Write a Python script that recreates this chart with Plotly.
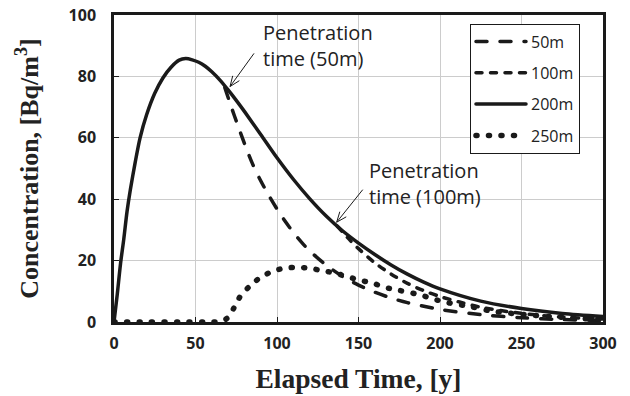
import math
import plotly.graph_objects as go

# ---- data ----
x_200 = [0, 2, 4, 6, 8, 10, 13, 16, 20, 25, 30, 35, 40, 44, 48, 52, 56, 60, 65, 70, 75, 80, 90,
         100, 110, 120, 130, 140, 150, 160, 170, 180, 190, 200, 225, 250, 275, 300]
y_200 = [0, 9, 19, 27, 36, 43, 52, 60, 67.5, 74.5, 79.5, 83, 85.3, 85.8, 85.4, 84.6, 83.3, 81.5,
         78.8, 75.6, 72.2, 68.6, 61.1, 53.5, 46.5, 40.2, 34.6, 29.8, 25.7, 22.0, 18.6, 15.6,
         13.0, 10.8, 6.8, 4.4, 2.8, 1.8]

x_50 = [68, 72, 76, 80, 85, 90, 95, 100, 105, 110, 115, 120, 130, 140, 150, 160, 170, 180,
        200, 225, 250, 275, 300]
y_50 = [76.3, 70, 64, 58.2, 51.5, 46, 41.2, 36.8, 32.8, 29.2, 26, 23.2, 18.6, 14.9, 12.0, 9.7,
        7.8, 6.3, 4.1, 2.4, 1.4, 0.8, 0.5]

x_100 = [137, 145, 150, 160, 170, 180, 190, 200, 212, 225, 250, 275, 300]
y_100 = [31.2, 26.5, 23.9, 19.3, 15.6, 12.6, 10.2, 8.3, 6.5, 4.8, 2.8, 1.6, 1.0]

x_250 = [0, 20, 40, 60, 66, 70, 74, 78, 84, 90, 97, 104, 112, 120, 128, 136, 150, 159, 166,
         175, 188, 202, 219, 231, 250, 275, 300]
y_250 = [0, 0, 0, 0, 0.2, 1.5, 5, 8.8, 12, 14.6, 16.4, 17.5, 17.8, 17.5, 16.7, 15.9, 13.7,
         12.6, 11.3, 10.3, 8.8, 6.6, 5, 3.6, 2.5, 1.5, 0.8]

x_ticks = [0, 50, 100, 150, 200, 250, 300]
y_ticks = [0, 20, 40, 60, 80, 100]

# annotation anchor points (data coords): tip on curve, tail at text
arrow_50 = dict(tip=(71.2, 76.7), tail=(85.9, 87.5))
arrow_100 = dict(tip=(136.6, 32.5), tail=(152.6, 43.1))

W, H = 630, 396
ML, MR, MT, MB = 114, 27, 15, 74
PW, PH = W - ML - MR, H - MT - MB
XR, YR = (0, 300), (0, 100)

TICK_FONT = dict(family="Open Sans", size=16, color="#222222", weight="bold")
XTITLE_FONT = dict(family="Liberation Serif", size=27.5, color="#222222")
YTITLE_FONT = dict(family="Liberation Serif", size=26, color="#222222")
TEXT_FONT = dict(family="Open Sans", size=20, color="#222222")
INK = "#1a1a1a"

fig = go.Figure()
common = dict(mode="lines", line_shape="spline", line_smoothing=0.8)
fig.add_trace(go.Scatter(x=x_50, y=y_50, name="50m", legendgroup="a",
                         line=dict(color=INK, width=3.5, dash="11px,13px"), **common))
fig.add_trace(go.Scatter(x=x_100, y=y_100, name="100m", legendgroup="b",
                         line=dict(color=INK, width=3.5, dash="6px,8.5px"), **common))
fig.add_trace(go.Scatter(x=x_200, y=y_200, name="200m", legendgroup="c",
                         line=dict(color=INK, width=3.5), **common))
fig.add_trace(go.Scatter(x=x_250, y=y_250, name="250m", legendgroup="d",
                         line=dict(color=INK, width=5.5, dash="1px,11.5px"), **common))

axis_common = dict(showgrid=True, gridcolor="#cccccc", gridwidth=1, showline=True,
                   linecolor=INK, linewidth=2.5, mirror=True, ticks="inside",
                   ticklen=5, tickcolor=INK, tickfont=TICK_FONT, zeroline=False,
                   automargin=False)

fig.update_layout(
    width=W, height=H,
    margin=dict(l=ML, r=MR, t=MT, b=MB),
    paper_bgcolor="white", plot_bgcolor="white",
    xaxis=dict(range=list(XR), tickvals=x_ticks, ticktext=[str(v) for v in x_ticks],
               ticklabelstandoff=5,
               title=dict(text="<b>Elapsed Time, [y]</b>", font=XTITLE_FONT, standoff=16),
               **axis_common),
    yaxis=dict(range=list(YR), tickvals=y_ticks, ticktext=[str(v) for v in y_ticks],
               ticklabelstandoff=12,
               title=dict(text="<b>Concentration, [Bq/m<sup>3</sup>]</b>", font=YTITLE_FONT,
                          standoff=23),
               **axis_common),
    legend=dict(x=0.728, y=0.972, xanchor="left", yanchor="top", bgcolor="white",
                bordercolor=INK, borderwidth=1,
                font=dict(family="Open Sans", size=16, color="#222222"),
                traceorder="grouped", tracegroupgap=7.5, itemwidth=50),
    showlegend=True,
)

# open-V arrows drawn as line shapes (pixel-space geometry converted to data coords)
sx = PW / (XR[1] - XR[0])
sy = PH / (YR[1] - YR[0])


def add_arrow(tip, tail, head=11, ang=22):
    tx, ty = tip
    dx = (tail[0] - tx) * sx
    dy = (tail[1] - ty) * sy
    L = math.hypot(dx, dy)
    ux, uy = dx / L, dy / L
    line = dict(color=INK, width=1)
    fig.add_shape(type="line", x0=tail[0], y0=tail[1], x1=tx, y1=ty, line=line,
                  xref="x", yref="y")
    for s in (1, -1):
        a = math.radians(ang) * s
        hx = ux * math.cos(a) - uy * math.sin(a)
        hy = ux * math.sin(a) + uy * math.cos(a)
        fig.add_shape(type="line", x0=tx, y0=ty, x1=tx + hx * head / sx, y1=ty + hy * head / sy,
                      line=line, xref="x", yref="y")


add_arrow(**arrow_50)
add_arrow(**arrow_100)

fig.add_annotation(x=90.3, y=90.1, xref="x", yref="y", xanchor="left", yanchor="middle",
                   text="Penetration<br>time (50m)", showarrow=False, align="left", font=TEXT_FONT)
fig.add_annotation(x=155.3, y=45.0, xref="x", yref="y", xanchor="left", yanchor="middle",
                   text="Penetration<br>time (100m)", showarrow=False, align="left", font=TEXT_FONT)

post = ("var s=document.createElement('style');"
        "s.textContent='.js-line{stroke-linecap:round !important;}';"
        "document.head.appendChild(s);")
fig.write_html("out.html", post_script=post)
